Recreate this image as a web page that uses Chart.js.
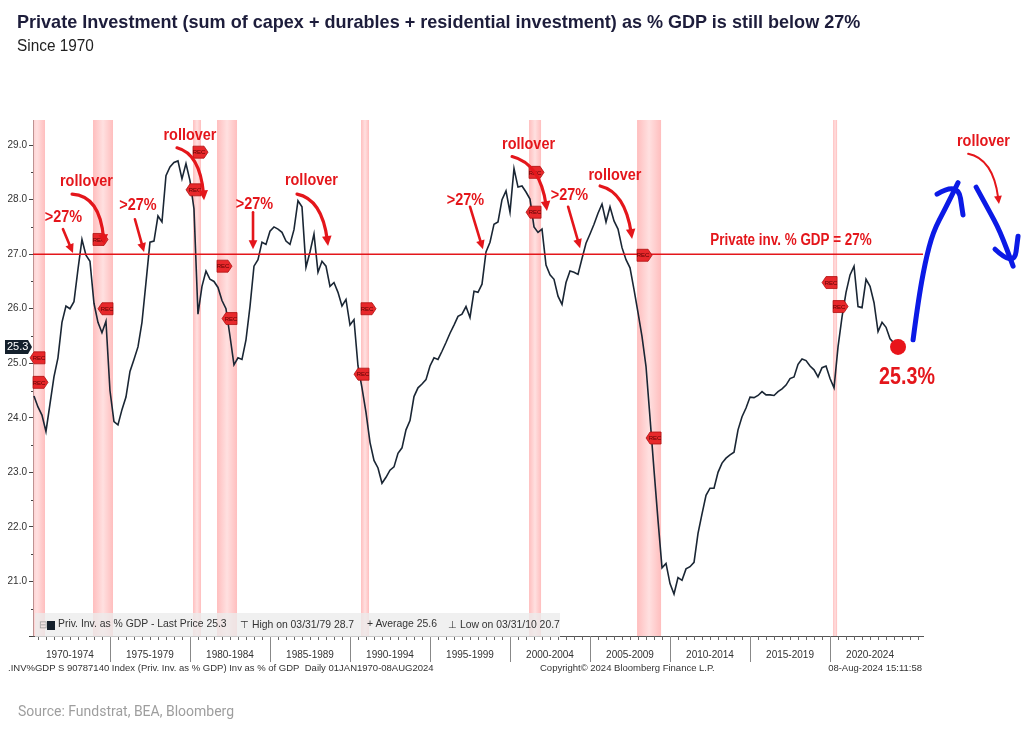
<!DOCTYPE html>
<html>
<head>
<meta charset="utf-8">
<script src="https://cdn.jsdelivr.net/npm/chart.js@4.4.1/dist/chart.umd.min.js"></script>
<style>
  body { margin: 0; background: #fff; }
  #page { position: relative; width: 1024px; height: 731px; overflow: hidden; }
  #c { position: absolute; left: 0; top: 0; }
  .t { position: absolute; white-space: nowrap; }
  #title { left: 17px; top: 11px; font: bold 19px 'Liberation Sans', sans-serif; color: #1d1d3b; transform: scaleX(0.95); transform-origin: 0 0; }
  #sub { left: 17px; top: 37px; font: 16px 'Liberation Sans', sans-serif; color: #222; transform: scaleX(0.96); transform-origin: 0 0; }
  #src { left: 18px; top: 703px; font: 14px Roboto, sans-serif; color: #9e9e9e; }
  #lg { position: absolute; left: 35px; top: 613px; width: 525px; height: 24px; background: rgba(236,236,236,0.78); }
  #lg .t, .bb { font: 10.4px 'Liberation Sans', sans-serif; color: #333; top: 5px; }
  .bb { position: absolute; white-space: nowrap; font-size: 9.5px !important; }
  #sq { position: absolute; left: 12px; top: 8px; width: 8px; height: 9px; background: #14202c; }
</style>
</head>
<body>
<div id="page">
  <canvas id="c" width="1024" height="731"></canvas>
  <div class="t" id="title">Private Investment (sum of capex + durables + residential investment) as % GDP is still below 27%</div>
  <div class="t" id="sub">Since 1970</div>
  <div id="lg">
    <span class="t" style="left:4px;color:#999">⊟</span><span id="sq"></span>
    <span class="t" style="left:23px">Priv. Inv. as % GDP - Last Price 25.3</span>
    <span class="t" style="left:205px">⊤ High on 03/31/79 28.7</span>
    <span class="t" style="left:332px">+ Average 25.6</span>
    <span class="t" style="left:413px">⊥ Low on 03/31/10 20.7</span>
  </div>
  <div class="bb" style="left:8px;top:662px">.INV%GDP S 90787140 Index (Priv. Inv. as % GDP) Inv as % of GDP&nbsp; Daily 01JAN1970-08AUG2024</div>
  <div class="bb" style="left:540px;top:662px">Copyright© 2024 Bloomberg Finance L.P.</div>
  <div class="bb" style="right:102px;top:662px">08-Aug-2024 15:11:58</div>
  <div class="t" id="src">Source: Fundstrat, BEA, Bloomberg</div>
</div>

<script>
// quarterly, 1970Q1 .. 2024Q1, private investment as % of GDP
const startYear = 1970;
const invPctGdp = [
  24.4, 24.2, 24.05, 23.75,    // 1970
  24.25, 24.75, 25.1, 25.75,   // 1971
  26.05, 26.0, 26.13, 26.72,   // 1972
  27.27, 26.98, 26.87, 26.1,   // 1973
  25.75, 25.56, 25.77, 24.5,   // 1974
  23.93, 23.87, 24.15, 24.38,  // 1975
  24.85, 25.07, 25.3, 25.75,   // 1976
  26.48, 27.22, 27.24, 27.7,   // 1977
  27.59, 28.44, 28.6, 28.68,   // 1978
  28.71, 28.38, 28.66, 28.35,  // 1979
  27.83, 25.9, 26.41, 26.69,   // 1980
  26.54, 26.5, 26.39, 26.15,   // 1981
  26.0, 25.5, 24.97, 25.1,     // 1982
  25.07, 25.43, 26.04, 26.78,  // 1983
  26.9, 27.22, 27.18, 27.42,   // 1984
  27.5, 27.46, 27.4, 27.24,    // 1985
  27.18, 27.45, 27.98, 27.87,  // 1986
  26.76, 27.04, 27.37, 26.67,  // 1987
  26.87, 26.78, 26.41, 26.48,  // 1988
  26.3, 26.05, 26.17, 25.7,    // 1989
  25.8, 24.95, 24.55, 24.1,    // 1990
  23.55, 23.22, 23.08, 22.8,   // 1991
  22.91, 23.04, 23.1, 23.35,   // 1992
  23.45, 23.78, 23.95, 24.39,  // 1993
  24.55, 24.62, 24.7, 24.95,   // 1994
  25.1, 25.07, 25.22, 25.38,   // 1995
  25.55, 25.7, 25.86, 25.9,    // 1996
  26.04, 25.84, 26.32, 26.3,   // 1997
  26.45, 27.04, 27.22, 27.55,  // 1998
  27.59, 28.0, 28.16, 27.77,   // 1999
  28.57, 28.23, 28.25, 28.14,  // 2000
  28.01, 27.5, 27.4, 27.46,    // 2001
  26.8, 26.62, 26.54, 26.23,   // 2002
  26.08, 26.48, 26.69, 26.67,  // 2003
  26.63, 26.92, 27.2, 27.37,   // 2004
  27.55, 27.75, 27.92, 27.59,  // 2005
  27.87, 27.61, 27.46, 27.12,  // 2006
  26.9, 26.75, 26.35, 25.93,   // 2007
  25.49, 24.94, 24.0, 23.04,   // 2008
  22.12, 21.25, 21.33, 20.96,  // 2009
  20.77, 21.07, 21.02, 21.23,  // 2010
  21.27, 21.35, 21.88, 22.24,  // 2011
  22.58, 22.71, 22.71, 23.0,   // 2012
  23.17, 23.26, 23.32, 23.37,  // 2013
  23.78, 24.02, 24.18, 24.38,  // 2014
  24.37, 24.41, 24.48, 24.42,  // 2015
  24.42, 24.41, 24.48, 24.53,  // 2016
  24.6, 24.72, 24.75, 24.98,   // 2017
  25.08, 25.05, 24.95, 24.88,  // 2018
  24.75, 24.92, 24.95, 24.72,  // 2019
  24.55, 25.3, 25.85, 26.3,    // 2020
  26.62, 26.78, 26.04, 26.02,  // 2021
  26.54, 26.41, 26.11, 25.58,  // 2022
  25.75, 25.66, 25.45, 25.37,  // 2023
  25.3                         // 2024
];
const threshold = 27;
const lastValue = 25.3;

const periodLabels = ['1970-1974', '1975-1979', '1980-1984', '1985-1989', '1990-1994', '1995-1999',
  '2000-2004', '2005-2009', '2010-2014', '2015-2019', '2020-2024'];
const periodStarts = [1970, 1975, 1980, 1985, 1990, 1995, 2000, 2005, 2010, 2015, 2020];
const yTicks = [20, 21, 22, 23, 24, 25, 26, 27, 28, 29];

// recession shading (start, end in years) and the y value of each REC flag pair [start, end]
const recessions = [[1969.92, 1970.94], [1973.94, 1975.19], [1980.19, 1980.69], [1981.69, 1982.94],
  [1990.69, 1991.19], [2001.19, 2001.94], [2007.94, 2009.44], [2020.19, 2020.44]];
const recFlagY = [[24.65, 25.1], [27.27, 26.0], [28.87, 28.18], [26.78, 25.82],
  [26.0, 24.8], [28.5, 27.77], [26.98, 23.63], [26.04, 26.48]];

// annotations, placed in chart units (year, value)
const notes = [
  ['>27%', 1972.09, 27.67], ['rollover', 1973.53, 28.34],
  ['>27%', 1976.75, 27.90], ['rollover', 1980.0, 29.18],
  ['>27%', 1984.03, 27.92], ['rollover', 1987.59, 28.35],
  ['>27%', 1997.22, 27.99], ['rollover', 2001.16, 29.01],
  ['>27%', 2003.72, 28.08], ['rollover', 2006.56, 28.45],
  ['rollover', 2029.59, 29.07]
];
const straightArrows = [
  [[1972.06, 27.46], [1972.69, 27.02]],
  [[1976.56, 27.64], [1977.13, 27.04]],
  [[1983.94, 27.77], [1983.94, 27.09]],
  [[1997.5, 27.87], [1998.31, 27.09]],
  [[2003.63, 27.87], [2004.38, 27.11]]
];
const curvedArrows = [
  [[1972.63, 28.10], [1974.38, 28.07], [1974.63, 27.18]],
  [[1979.19, 28.95], [1980.63, 28.84], [1980.88, 27.99]],
  [[1986.69, 28.10], [1988.25, 28.01], [1988.63, 27.15]],
  [[2000.13, 28.79], [2001.88, 28.66], [2002.31, 27.79]],
  [[2005.63, 28.25], [2007.19, 28.14], [2007.63, 27.28]],
  [[2028.63, 28.84], [2030.19, 28.75], [2030.56, 27.92]]
];
const blueStrokes = [
  [[2025.19, 25.43], [2025.5, 26.12], [2025.94, 26.85], [2026.44, 27.41], [2027.19, 27.83], [2028.0, 28.31]],
  [[2026.69, 28.10], [2028.0, 28.33], [2028.31, 27.72]],
  [[2029.13, 28.23], [2029.88, 27.83], [2030.63, 27.42], [2031.44, 26.78]],
  [[2030.31, 27.09], [2031.5, 26.76], [2031.75, 27.33]]
];

const RED = '#e4161b';
const BOLD = "bold {s}px 'Liberation Sans', sans-serif";

function arrowHead(ctx, fx, fy, tx, ty, size) {
  const ang = Math.atan2(ty - fy, tx - fx);
  ctx.beginPath();
  ctx.moveTo(tx, ty);
  ctx.lineTo(tx - size * Math.cos(ang - 0.45), ty - size * Math.sin(ang - 0.45));
  ctx.lineTo(tx - size * Math.cos(ang + 0.45), ty - size * Math.sin(ang + 0.45));
  ctx.closePath();
  ctx.fill();
}

// condensed text: the narrow face is not installed, so squeeze the regular one
function narrowText(ctx, txt, x, y, size, sx) {
  ctx.save();
  ctx.font = BOLD.replace('{s}', size);
  ctx.translate(x, y);
  ctx.scale(sx, 1);
  ctx.fillText(txt, 0, 0);
  ctx.restore();
}

function recFlag(ctx, x0, y0, dir) {
  // dir 1 = pointing right (starts at x0), -1 = pointing left (ends at x0)
  const w = 15, h = 12, p = 4;
  ctx.beginPath();
  if (dir > 0) {
    ctx.moveTo(x0, y0 - h / 2); ctx.lineTo(x0 + w - p, y0 - h / 2); ctx.lineTo(x0 + w, y0);
    ctx.lineTo(x0 + w - p, y0 + h / 2); ctx.lineTo(x0, y0 + h / 2);
  } else {
    ctx.moveTo(x0, y0 - h / 2); ctx.lineTo(x0 - w + p, y0 - h / 2); ctx.lineTo(x0 - w, y0);
    ctx.lineTo(x0 - w + p, y0 + h / 2); ctx.lineTo(x0, y0 + h / 2);
  }
  ctx.closePath();
  ctx.fillStyle = '#e8282b';
  ctx.fill();
  ctx.strokeStyle = '#b01010';
  ctx.lineWidth = 0.8;
  ctx.stroke();
  ctx.fillStyle = '#5a0000';
  ctx.font = '6px "Liberation Sans", sans-serif';
  ctx.textAlign = 'center';
  ctx.textBaseline = 'middle';
  ctx.fillText('REC', dir > 0 ? x0 + 6 : x0 - 6, y0 + 0.5);
}

const overlay = {
  id: 'overlay',
  beforeDatasetsDraw(chart) {
    const { ctx, chartArea: a, scales: { x } } = chart;
    ctx.save();
    ctx.beginPath();
    ctx.rect(a.left, a.top, a.right - a.left, a.bottom - a.top);
    ctx.clip();
    recessions.forEach(([s, e]) => {
      const x0 = x.getPixelForValue(s), x1 = x.getPixelForValue(e);
      const g = ctx.createLinearGradient(x0, 0, x1, 0);
      g.addColorStop(0, 'rgba(255,150,150,0.62)');
      g.addColorStop(0.5, 'rgba(255,205,205,0.62)');
      g.addColorStop(1, 'rgba(255,150,150,0.62)');
      ctx.fillStyle = g;
      ctx.fillRect(x0, a.top, x1 - x0, a.bottom - a.top);
    });
    ctx.restore();
  },
  afterDatasetsDraw(chart) {
    const { ctx, chartArea: a, scales: { x, y } } = chart;
    const X = v => x.getPixelForValue(v), Y = v => y.getPixelForValue(v);
    ctx.save();

    // 27% threshold line
    ctx.strokeStyle = RED;
    ctx.lineWidth = 1.6;
    ctx.beginPath();
    ctx.moveTo(a.left, Y(threshold));
    ctx.lineTo(a.right, Y(threshold));
    ctx.stroke();

    // REC flags
    recessions.forEach(([s, e], i) => {
      recFlag(ctx, Math.max(X(s), a.left), Y(recFlagY[i][0]), 1);
      recFlag(ctx, X(e), Y(recFlagY[i][1]), -1);
    });

    // x axis: period separators and half-year ticks
    ctx.strokeStyle = '#666';
    ctx.lineWidth = 1;
    for (let t = 1970.5; t < x.max; t += 0.5) {
      if (t < x.min) continue;
      const px = Math.round(X(t)) + 0.5;
      ctx.beginPath(); ctx.moveTo(px, a.bottom); ctx.lineTo(px, a.bottom + 4); ctx.stroke();
    }
    ctx.strokeStyle = '#888';
    periodStarts.slice(1).forEach(t => {
      const px = Math.round(X(t)) + 0.5;
      ctx.beginPath(); ctx.moveTo(px, a.bottom); ctx.lineTo(px, a.bottom + 26); ctx.stroke();
    });
    // y axis half ticks
    ctx.strokeStyle = '#444';
    for (let v = 20.5; v < y.max; v += 1) {
      const py = Math.round(Y(v)) + 0.5;
      ctx.beginPath(); ctx.moveTo(a.left - 2, py); ctx.lineTo(a.left, py); ctx.stroke();
    }

    // last price box on the y axis
    const ly = Y(lastValue);
    ctx.fillStyle = '#14202c';
    ctx.beginPath();
    ctx.moveTo(5, ly - 7); ctx.lineTo(28, ly - 7); ctx.lineTo(32, ly); ctx.lineTo(28, ly + 7); ctx.lineTo(5, ly + 7);
    ctx.closePath(); ctx.fill();
    ctx.fillStyle = '#fff';
    ctx.font = '11px "Liberation Sans", sans-serif';
    ctx.textAlign = 'left';
    ctx.textBaseline = 'middle';
    ctx.fillText(lastValue.toFixed(1), 7, ly + 0.5);

    // red annotation arrows
    ctx.strokeStyle = RED;
    ctx.fillStyle = RED;
    ctx.lineCap = 'round';
    straightArrows.forEach(([p0, p1]) => {
      const x0 = X(p0[0]), y0 = Y(p0[1]), x1 = X(p1[0]), y1 = Y(p1[1]);
      const ang = Math.atan2(y1 - y0, x1 - x0);
      ctx.lineWidth = 2.6;
      ctx.beginPath(); ctx.moveTo(x0, y0); ctx.lineTo(x1 - 6 * Math.cos(ang), y1 - 6 * Math.sin(ang)); ctx.stroke();
      arrowHead(ctx, x0, y0, x1, y1, 10);
    });
    curvedArrows.forEach(([p0, c, p1], i) => {
      const x0 = X(p0[0]), y0 = Y(p0[1]), cx = X(c[0]), cy = Y(c[1]), x1 = X(p1[0]), y1 = Y(p1[1]);
      const ang = Math.atan2(y1 - cy, x1 - cx);
      const last = i === curvedArrows.length - 1;
      ctx.lineWidth = last ? 2 : 3.2;
      ctx.beginPath(); ctx.moveTo(x0, y0);
      ctx.quadraticCurveTo(cx, cy, x1 - 6 * Math.cos(ang), y1 - 6 * Math.sin(ang)); ctx.stroke();
      arrowHead(ctx, cx, cy, x1, y1, last ? 9 : 11);
    });

    // red annotation text
    ctx.textAlign = 'center';
    ctx.textBaseline = 'middle';
    notes.forEach(([txt, tx, ty]) => narrowText(ctx, txt, X(tx), Y(ty), 17, 0.85));
    narrowText(ctx, 'Private inv. % GDP = ' + threshold + '%', X(2017.56), Y(27.24), 16, 0.84);
    narrowText(ctx, lastValue.toFixed(1) + '%', X(2024.81), Y(24.75), 24, 0.82);

    // hand drawn blue arrows
    ctx.strokeStyle = '#0b1ae6';
    ctx.lineWidth = 5;
    ctx.lineJoin = 'round';
    blueStrokes.forEach(pts => {
      const p = pts.map(q => [X(q[0]), Y(q[1])]);
      ctx.beginPath();
      ctx.moveTo(p[0][0], p[0][1]);
      for (let k = 1; k < p.length - 1; k++) {
        const mx = (p[k][0] + p[k + 1][0]) / 2, my = (p[k][1] + p[k + 1][1]) / 2;
        ctx.quadraticCurveTo(p[k][0], p[k][1], mx, my);
      }
      ctx.lineTo(p[p.length - 1][0], p[p.length - 1][1]);
      ctx.stroke();
    });
    ctx.restore();
  }
};

const lastIdx = invPctGdp.length - 1;
new Chart(document.getElementById('c'), {
  type: 'line',
  data: {
    datasets: [{
      data: invPctGdp.map((v, i) => ({ x: startYear + (i + 1) / 4, y: v })),
      borderColor: '#1a2634',
      borderWidth: 1.6,
      tension: 0,
      pointRadius: c => (c.dataIndex === lastIdx ? 8 : 0),
      pointBackgroundColor: '#e8141a',
      pointBorderWidth: 0,
      pointHoverRadius: 0
    }]
  },
  options: {
    responsive: false,
    animation: false,
    events: [],
    layout: { padding: { left: 0, top: 120, right: 101, bottom: 65 } },
    plugins: { legend: { display: false }, tooltip: { enabled: false } },
    scales: {
      x: {
        type: 'linear',
        min: 1970.19,
        max: 2025.81,
        afterBuildTicks: s => { s.ticks = periodStarts.map(t => ({ value: t + 2.5 })); },
        afterFit: s => { s.height = 30; },
        grid: { display: false, drawTicks: false },
        border: { display: true, color: '#555', width: 1 },
        ticks: {
          autoSkip: false, maxRotation: 0, padding: 13, color: '#333',
          font: { family: 'Liberation Sans', size: 10 },
          callback: (v, i) => periodLabels[i]
        }
      },
      y: {
        min: 20,
        max: 29.46,
        afterBuildTicks: s => { s.ticks = yTicks.map(v => ({ value: v })); },
        afterFit: s => { s.width = 33; },
        grid: { drawOnChartArea: false, drawTicks: true, tickLength: 4, color: '#444' },
        border: { display: true, color: '#555', width: 1 },
        ticks: {
          padding: 2, color: '#333',
          font: { family: 'Liberation Sans', size: 10 },
          callback: v => (v === 20 ? '' : v.toFixed(1))
        }
      }
    }
  },
  plugins: [overlay]
});
</script>
</body>
</html>
